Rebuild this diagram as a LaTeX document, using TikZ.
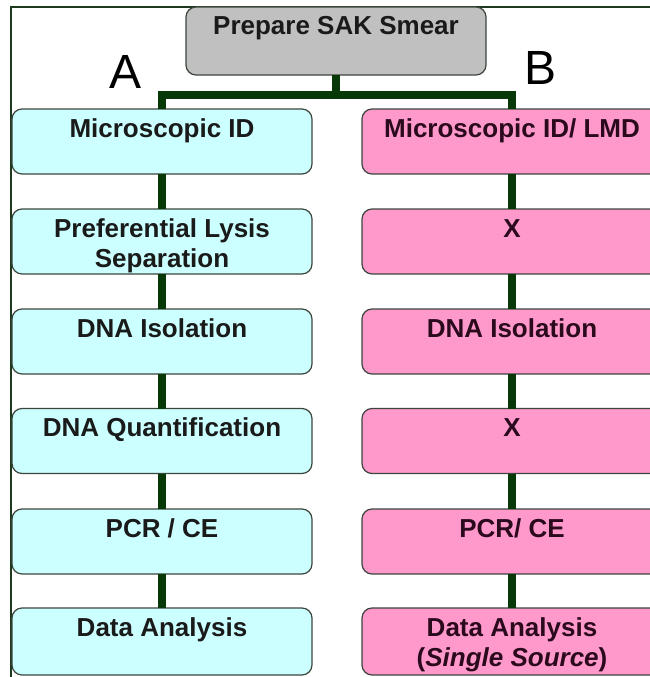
\documentclass[tikz,border=0pt]{standalone}
\usepackage{fontspec}
\setmainfont{Liberation Sans}
\definecolor{cyanfill}{HTML}{CCFFFF}
\definecolor{pinkfill}{HTML}{FF99CC}
\definecolor{grayfill}{HTML}{C0C0C0}
\definecolor{boxline}{HTML}{3C463C}
\definecolor{linkgreen}{HTML}{073807}
\definecolor{framegreen}{HTML}{1E3A1E}
\definecolor{textdark}{HTML}{1A1A1A}
\definecolor{textpink}{HTML}{2A0A1C}
\newcommand\boxtext[2]{\parbox[c][#1][t]{296pt}{\centering\rule{0pt}{28pt}#2}}
\tikzset{
  stepbox/.style={draw=boxline, line width=1.2pt, rounded corners=10pt,
    inner sep=0pt, outer sep=0pt, minimum width=300pt,
    font=\bfseries\fontsize{26}{30}\selectfont, text=textdark},
  cyanbox/.style={stepbox, fill=cyanfill},
  pinkbox/.style={stepbox, fill=pinkfill, text=textpink},
  graybox/.style={stepbox, fill=grayfill},
  link/.style={draw=linkgreen, line width=8pt},
  branchlabel/.style={font=\fontsize{48}{52}\selectfont, text=black, inner sep=0pt}
}
\begin{document}
\begin{tikzpicture}[x=1pt,y=-1pt]
\useasboundingbox (0,0) rectangle (650,677);
\clip (0,0) rectangle (650,677);
\fill[white] (0,0) rectangle (650,677);
\draw[framegreen, line width=2pt] (11,677) -- (11,7) -- (650,7);

\node[graybox] (top) at (336,41) {\boxtext{68pt}{Prepare SAK Smear}};

\node[branchlabel] (labA) at (126,72) {A};
\node[branchlabel] (labB) at (541,68) {B};

\node[cyanbox] (L1) at (162,141.5) {\boxtext{65pt}{Microscopic ID}};
\node[cyanbox] (L2) at (162,241.5) {\boxtext{65pt}{Preferential Lysis\\Separation}};
\node[cyanbox] (L3) at (162,341.5) {\boxtext{65pt}{DNA Isolation}};
\node[cyanbox] (L4) at (162,441) {\boxtext{65pt}{DNA Quantification}};
\node[cyanbox] (L5) at (162,541.5) {\boxtext{65pt}{PCR / CE}};
\node[cyanbox] (L6) at (162,641.5) {\boxtext{67pt}{Data Analysis}};

\node[pinkbox] (R1) at (512,141.5) {\boxtext{65pt}{Microscopic ID/ LMD}};
\node[pinkbox] (R2) at (512,241.5) {\boxtext{65pt}{X}};
\node[pinkbox] (R3) at (512,341.5) {\boxtext{65pt}{DNA Isolation}};
\node[pinkbox] (R4) at (512,441) {\boxtext{65pt}{X}};
\node[pinkbox] (R5) at (512,541.5) {\boxtext{65pt}{PCR/ CE}};
\node[pinkbox] (R6) at (512,641.5) {\boxtext{67pt}{Data Analysis\\(\textit{Single Source})}};

\coordinate (bar) at (336,95);
\coordinate (barL) at (L1.north |- bar);
\coordinate (barR) at (R1.north |- bar);
\draw[link] (top.south) -- (bar);
\draw[link, line join=miter] (L1.north) -- (barL) -- (barR) -- (R1.north);

\draw[link] (L1.south) -- (L2.north);
\draw[link] (L2.south) -- (L3.north);
\draw[link] (L3.south) -- (L4.north);
\draw[link] (L4.south) -- (L5.north);
\draw[link] (L5.south) -- (L6.north);
\draw[link] (R1.south) -- (R2.north);
\draw[link] (R2.south) -- (R3.north);
\draw[link] (R3.south) -- (R4.north);
\draw[link] (R4.south) -- (R5.north);
\draw[link] (R5.south) -- (R6.north);
\end{tikzpicture}
\end{document}
